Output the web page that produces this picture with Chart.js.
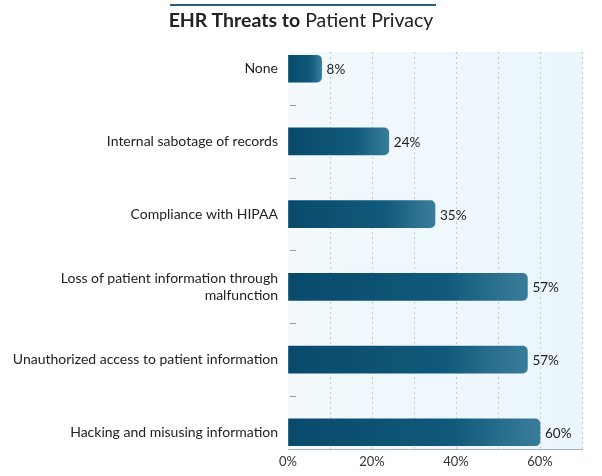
<!DOCTYPE html>
<html>
<head>
<meta charset="utf-8">
<script src="https://cdn.jsdelivr.net/npm/chart.js@4/dist/chart.umd.min.js"></script>
<style>
    body { margin: 0; background: #fff; }
    #wrap { position: relative; width: 602px; height: 476px; }
    #topline { position: absolute; left: 170px; top: 4px; width: 266px; height: 2px; background: #2b5d75; }
    #title { position: absolute; left: 0; top: 8px; width: 602px; text-align: center;
             font-family: Lato, sans-serif; font-size: 19.5px; color: #222; line-height: 24px; }
    #title b { font-weight: bold; }
</style>
</head>
<body>
<div id="wrap">
    <canvas id="threatsChart" width="602" height="476"></canvas>
    <div id="topline"></div>
    <div id="title"><b>EHR Threats to</b> Patient Privacy</div>
</div>
<script>
// Ameaças ao prontuário eletrônico
const categorias = [
    'None',
    'Internal sabotage of records',
    'Compliance with HIPAA',
    ['Loss of patient information through', 'malfunction'],
    'Unauthorized access to patient information',
    'Hacking and misusing information'
];
const valores = [8, 24, 35, 57, 57, 60];
const xTicks = [0, 10, 20, 30, 40, 50, 60, 70];

const pontos = valores.map((v, i) => ({ x: v, y: i }));

// fundo azul claro + marcas entre categorias + rótulos de valor
const extras = {
    id: 'extras',
    beforeDraw(chart) {
        const { ctx, chartArea: a } = chart;
        const g = ctx.createLinearGradient(a.left, 0, a.right, 0);
        g.addColorStop(0, '#f3f9fd');
        g.addColorStop(1, '#eaf6fc');
        ctx.save();
        ctx.fillStyle = g;
        ctx.fillRect(a.left, a.top, a.right - a.left, a.bottom - a.top);
        ctx.restore();
    },
    afterDatasetsDraw(chart) {
        const { ctx, chartArea: a } = chart;
        const y = chart.scales.y;
        ctx.save();
        ctx.strokeStyle = '#9a9a9a';
        ctx.lineWidth = 1;
        for (let i = 0; i < categorias.length - 1; i++) {
            const py = Math.round(y.getPixelForValue(i + 0.5)) + 0.5;
            ctx.beginPath();
            ctx.moveTo(a.left + 2, py);
            ctx.lineTo(a.left + 8, py);
            ctx.stroke();
        }
        ctx.fillStyle = '#222';
        ctx.font = '13.5px Lato, sans-serif';
        ctx.textBaseline = 'middle';
        chart.getDatasetMeta(0).data.forEach((bar, i) => {
            ctx.fillText(valores[i] + '%', bar.x + 5, bar.y + 1);
        });
        ctx.restore();
    }
};

new Chart(document.getElementById('threatsChart'), {
    type: 'bar',
    data: {
        datasets: [{
            data: pontos,
            barThickness: 27,
            borderRadius: 5,
            borderSkipped: 'start',
            backgroundColor: function (c) {
                const chart = c.chart;
                if (!chart.chartArea || c.dataIndex === undefined) return '#0b4d6e';
                const x0 = chart.chartArea.left;
                const x1 = chart.scales.x.getPixelForValue(valores[c.dataIndex]);
                const g = chart.ctx.createLinearGradient(x0, 0, x1, 0);
                g.addColorStop(0, '#094a6b');
                g.addColorStop(0.65, '#10597a');
                g.addColorStop(1, '#3a7d9b');
                return g;
            }
        }]
    },
    options: {
        indexAxis: 'y',
        responsive: false,
        animation: false,
        layout: { padding: { top: 52, right: 20, bottom: 0, left: 0 } },
        plugins: {
            legend: { display: false },
            tooltip: { enabled: false }
        },
        scales: {
            x: {
                type: 'linear',
                min: 0,
                max: 70,
                afterBuildTicks: s => { s.ticks = xTicks.map(v => ({ value: v })); },
                afterFit: s => { s.height = 27; },
                ticks: {
                    color: '#333',
                    font: { family: 'Lato, sans-serif', size: 13 },
                    padding: 5,
                    maxRotation: 0,
                    autoSkip: false,
                    callback: v => (v % 20 === 0 ? v + '%' : '')
                },
                grid: {
                    drawTicks: false,
                    color: c => (c.tick && c.tick.value === 0 ? 'rgba(0,0,0,0)' : '#c3cbd0'),
                    lineWidth: 1,
                    tickBorderDash: [2, 3]
                },
                border: { display: true, color: '#aab3b8', width: 1, dash: [2, 3] }
            },
            y: {
                type: 'linear',
                reverse: true,
                offset: false,
                min: -0.23,
                max: 5.23,
                afterBuildTicks: s => { s.ticks = categorias.map((_, i) => ({ value: i })); },
                afterFit: s => { s.width = 288; },
                ticks: {
                    color: '#222',
                    font: { family: 'Lato, sans-serif', size: 14 },
                    padding: 10,
                    autoSkip: false,
                    callback: v => categorias[v]
                },
                grid: { display: false, drawTicks: false, offset: false },
                border: { display: false }
            }
        }
    },
    plugins: [
        extras,
        {
            // linha sólida do eixo x
            id: 'eixoX',
            afterDraw(chart) {
                const { ctx, chartArea: a } = chart;
                ctx.save();
                ctx.strokeStyle = '#aab3b8';
                ctx.lineWidth = 1;
                ctx.beginPath();
                ctx.moveTo(a.left, Math.round(a.bottom) + 0.5);
                ctx.lineTo(a.right, Math.round(a.bottom) + 0.5);
                ctx.stroke();
                ctx.restore();
            }
        }
    ]
});
</script>
</body>
</html>
